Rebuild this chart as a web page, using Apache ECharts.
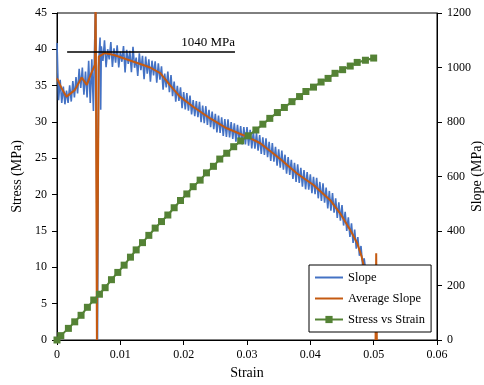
<!DOCTYPE html>
<html><head><meta charset="utf-8">
<script src="https://cdn.jsdelivr.net/npm/echarts@6/dist/echarts.min.js"></script>
<style>html,body{margin:0;padding:0;background:#fff}#c{width:484px;height:385px}</style>
</head><body><div id="c"></div>
<script>
// Strain tick labels
const strainTicks = ['0','0.01','0.02','0.03','0.04','0.05','0.06'];
// Raw slope [strain, MPa] (right axis)
const slopeData = [
[0,1090],[0.00025,880],[0.0005,955],[0.00075,870],[0.001,930],[0.00125,865],[0.0015,915],[0.00175,870],
[0.002,935],[0.00225,875],[0.0025,950],[0.00275,890],[0.003,965],[0.00325,905],[0.0035,995],[0.00375,925],
[0.004,1000],[0.00425,900],[0.0045,985],[0.00475,890],[0.005,1025],[0.00525,870],[0.0055,1030],[0.00575,840],
[0.0059,1040],[0.0061,1250],[0.00625,1250],[0.0064,0],[0.00645,0],[0.00655,1000],[0.0068,1110],[0.0069,845],
[0.007,1078],[0.00725,1024],[0.0075,1100],[0.00775,1001],[0.008,1067],[0.00825,1030],[0.0085,1093],[0.00875,1002],
[0.009,1070],[0.00925,1018],[0.0095,1081],[0.00975,1000],[0.01,1058],[0.01025,1021],[0.0105,1079],[0.01075,982],
[0.011,1065],[0.01125,1013],[0.0115,1061],[0.01175,983],[0.012,1076],[0.01225,999],[0.0125,1036],[0.01275,969],
[0.013,1052],[0.01325,990],[0.0135,1043],[0.01375,957],[0.014,1040],[0.01425,977],[0.0145,1030],[0.01475,948],
[0.015,1025],[0.01525,971],[0.0155,1023],[0.01575,944],[0.016,1015],[0.01625,955],[0.0165,1004],[0.01675,919],
[0.017,978],[0.01725,927],[0.0175,985],[0.01775,909],[0.018,972],[0.01825,895],[0.0185,948],[0.01875,875],
[0.019,933],[0.01925,877],[0.0195,927],[0.01975,851],[0.02,910],[0.02025,846],[0.0205,906],[0.02075,842],
[0.021,897],[0.02125,828],[0.0215,880],[0.02175,821],[0.022,877],[0.02225,818],[0.0225,874],[0.02275,799],
[0.023,860],[0.02325,796],[0.0235,858],[0.02375,789],[0.024,845],[0.02425,781],[0.0245,838],[0.02475,774],
[0.025,830],[0.02525,762],[0.0255,824],[0.02575,760],[0.026,817],[0.02625,749],[0.0265,811],[0.02675,745],
[0.027,810],[0.02725,743],[0.0275,800],[0.02775,738],[0.028,795],[0.02825,728],[0.0285,790],[0.02875,728],
[0.029,785],[0.02925,718],[0.0295,781],[0.02975,718],[0.03,781],[0.03025,713],[0.0305,771],[0.03075,703],
[0.031,765],[0.03125,702],[0.0315,759],[0.03175,695],[0.032,752],[0.03225,683],[0.0325,744],[0.03275,679],
[0.033,740],[0.03325,671],[0.0335,727],[0.03375,657],[0.034,723],[0.03425,654],[0.0345,709],[0.03475,640],
[0.035,700],[0.03525,632],[0.0355,695],[0.03575,625],[0.036,680],[0.03625,610],[0.0365,671],[0.03675,606],
[0.037,661],[0.03725,591],[0.0375,650],[0.03775,580],[0.038,645],[0.03825,576],[0.0385,632],[0.03875,563],
[0.039,624],[0.03925,553],[0.0395,616],[0.03975,552],[0.04,608],[0.04025,539],[0.0405,599],[0.04075,535],
[0.041,595],[0.04125,520],[0.0415,580],[0.04175,510],[0.042,575],[0.04225,504],[0.0425,559],[0.04275,483],
[0.043,547],[0.04325,475],[0.0435,539],[0.04375,467],[0.044,520],[0.04425,448],[0.0445,505],[0.04475,438],
[0.045,495],[0.04525,420],[0.0455,470],[0.04575,400],[0.046,450],[0.04625,378],[0.0465,428],[0.04675,356],
[0.047,405],[0.04725,335],[0.0475,378],[0.04775,309],[0.048,345],[0.04825,275],[0.0485,300],[0.0487,262]
];
// Average slope [strain, MPa] (right axis)
const avgSlopeData = [
[0,960],[0.0007,925],[0.0015,893],[0.0028,917],[0.0039,963],[0.0047,936],[0.0055,984],[0.006,1010],
[0.0061,1300],[0.0062,1300],[0.0063,0],[0.0064,0],[0.0066,1040],[0.0075,1053],[0.009,1046],[0.0105,1034],
[0.0121,1021],[0.0135,1010],[0.0147,1000],[0.0163,979],[0.0178,936],[0.0194,893],[0.0215,856],[0.0242,813],
[0.0268,777],[0.03,746],[0.0321,722],[0.0352,665],[0.0379,611],[0.0405,569],[0.0431,514],[0.0447,465],
[0.0463,404],[0.0474,355],[0.0481,306],[0.0484,275],[0.0488,150],[0.049,40],null,
[0.0503,0],[0.0504,318],[0.0505,0]
];
// Stress vs strain [strain, MPa] (left axis)
const stressData = [
[0,0],[0.0006,0.6],[0.0018,1.6],[0.0028,2.5],[0.0038,3.4],[0.0048,4.5],[0.0058,5.5],[0.0067,6.3],
[0.0076,7.2],[0.0086,8.3],[0.0096,9.3],[0.0106,10.3],[0.0116,11.4],[0.0125,12.4],[0.0135,13.4],[0.0145,14.4],
[0.0155,15.4],[0.0165,16.3],[0.0175,17.2],[0.0185,18.2],[0.0195,19.2],[0.0205,20.1],[0.0215,21.1],[0.0226,22.0],
[0.0236,23.0],[0.0247,23.9],[0.0257,24.9],[0.0268,25.7],[0.0279,26.6],[0.029,27.4],[0.0302,28.1],[0.0314,28.9],
[0.0325,29.7],[0.0336,30.5],[0.0348,31.3],[0.0359,32.0],[0.0371,32.8],[0.0383,33.5],[0.0393,34.2],[0.0405,34.8],
[0.0417,35.5],[0.0428,36.0],[0.0439,36.7],[0.0451,37.2],[0.0463,37.7],[0.0474,38.2],[0.0487,38.5],[0.05,38.8]
];
// Reference line (right axis)
const refLine = {x0:0.0016, x1:0.0281, value:1056, label:'1040 MPa'};

const F = 'Liberation Serif, Times New Roman, serif';
const lineIcon = 'path://M0,0H28V2H0Z';
const chart = echarts.init(document.getElementById('c'), null, {renderer:'canvas'});
chart.setOption({
  animation:false,
  textStyle:{fontFamily:F},
  grid:{left:57,right:47,top:13,bottom:45,show:true,borderColor:'#000',borderWidth:1,
        backgroundColor:'transparent',containLabel:false,outerBoundsMode:'none'},
  legend:{
    orient:'vertical', left:309, top:265,
    backgroundColor:'#fff', borderColor:'#000', borderWidth:1,
    padding:[6,6,6,5], itemGap:8, itemWidth:28, itemHeight:9,
    textStyle:{fontFamily:F,fontSize:12.5,color:'#000'},
    data:[{name:'Slope',icon:lineIcon},{name:'Average Slope',icon:lineIcon},{name:'Stress vs Strain'}]
  },
  xAxis:{type:'value',min:0,max:0.06,interval:0.01,
    name:'Strain',nameLocation:'middle',nameGap:25,nameTextStyle:{fontFamily:F,fontSize:14,color:'#000'},
    axisLine:{lineStyle:{color:'#000'}},axisTick:{show:true,inside:false,length:5,lineStyle:{color:'#000'}},
    axisLabel:{color:'#000',fontFamily:F,fontSize:12,margin:9,formatter:(v)=>strainTicks[Math.round(v/0.01)]},
    splitLine:{show:false}},
  yAxis:[
    {type:'value',min:0,max:45,interval:5,position:'left',
     name:'Stress (MPa)',nameLocation:'middle',nameGap:32,nameTextStyle:{fontFamily:F,fontSize:14,color:'#000'},
     axisLine:{show:true,lineStyle:{color:'#000'}},axisTick:{show:true,length:5,lineStyle:{color:'#000'}},
     axisLabel:{color:'#000',fontFamily:F,fontSize:12,margin:10,formatter:(v)=>String(v)},splitLine:{show:false}},
    {type:'value',min:0,max:1200,interval:200,position:'right',
     name:'Slope (MPa)',nameLocation:'middle',nameGap:40,nameRotate:90,nameMoveOverlap:false,
     nameTextStyle:{fontFamily:F,fontSize:14,color:'#000',align:'center',verticalAlign:'middle'},
     axisLine:{show:true,lineStyle:{color:'#000'}},axisTick:{show:true,length:5,lineStyle:{color:'#000'}},
     axisLabel:{color:'#000',fontFamily:F,fontSize:12,margin:10,formatter:(v)=>String(v)},splitLine:{show:false}}
  ],
  series:[
    {name:'Slope',type:'line',yAxisIndex:1,data:slopeData,symbol:'none',clip:true,
     lineStyle:{color:'#4472C4',width:1.6},itemStyle:{color:'#4472C4'},z:2,
     markLine:{silent:true,symbol:'none',
       lineStyle:{color:'#000',width:1.5,type:'solid'},
       label:{show:true,position:'insideEndTop',formatter:refLine.label,color:'#000',fontFamily:F,fontSize:13,distance:[0,3]},
       data:[[{coord:[refLine.x0,refLine.value]},{coord:[refLine.x1,refLine.value]}]]}},
    {name:'Average Slope',type:'line',yAxisIndex:1,data:avgSlopeData,symbol:'none',clip:true,connectNulls:false,
     lineStyle:{color:'#C55A11',width:2},itemStyle:{color:'#C55A11'},z:3},
    {name:'Stress vs Strain',type:'line',yAxisIndex:0,data:stressData,symbol:'rect',symbolSize:7,
     lineStyle:{color:'#548235',width:2},itemStyle:{color:'#548235'},z:4}
  ]
});
</script></body></html>
